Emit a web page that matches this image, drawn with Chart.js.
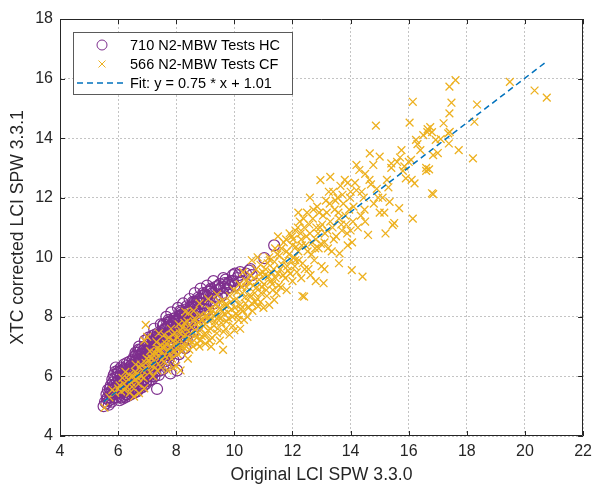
<!DOCTYPE html>
<html>
<head>
<meta charset="utf-8">
<script src="https://cdn.jsdelivr.net/npm/chart.js@4.4.1/dist/chart.umd.min.js"></script>
<style>
  html, body { margin: 0; padding: 0; background: #fff; }
  canvas { display: block; }
</style>
</head>
<body>
<canvas id="lciChart" width="598" height="486"></canvas>
<script>
// values: [original LCI, corrected LCI]
const hcPoints = [
  [5.5,5.0],[5.55,5.15],[5.6,5.1],[5.65,5.3],[5.7,5.2],[5.7,5.45],[5.75,5.35],[5.8,5.55],[5.8,5.25],[5.85,5.7],
  [5.85,5.4],[5.9,5.95],[5.9,5.5],[5.92,6.3],[5.95,5.3],[5.95,5.8],[6.0,5.6],[6.0,5.45],[6.0,6.0],[5.88,5.6],
  [5.62,5.25],[5.68,5.05],[5.72,5.6],[5.78,5.15],[5.82,5.8],[5.86,5.3],[5.92,5.65],[5.97,6.1],[5.98,5.5],[5.76,5.45],
  [5.6,5.4],[5.65,5.55],[5.75,5.7],[5.8,5.9],[5.85,6.05],[5.9,6.15],[6.0,6.2],[6.1,6.3],[6.2,6.4],[6.3,6.45],
  [6.4,6.5],[6.5,6.55],[6.55,6.65],[6.05,5.2],[6.15,5.25],[6.25,5.3],[6.35,5.35],[6.45,5.4],[6.55,5.45],[6.65,5.5],
  [6.75,5.6],[6.85,5.65],[6.95,5.75],[7.05,5.85],[7.15,5.9],[7.25,6.0],[7.4,6.05],[7.55,6.25],[7.7,6.35],[7.9,6.55],
  [8.1,6.75],[8.3,6.95],
  [6.05,5.35],[6.05,5.75],[6.1,5.55],[6.1,6.1],[6.12,5.9],[6.15,5.45],[6.15,5.7],[6.2,6.25],[6.2,5.6],[6.22,5.85],
  [6.25,5.4],[6.25,6.0],[6.3,5.7],[6.3,6.35],[6.32,5.55],[6.35,5.95],[6.35,5.8],[6.4,6.15],[6.4,5.5],[6.42,5.65],
  [6.45,6.05],[6.45,5.85],[6.48,6.4],[6.5,5.6],[6.5,5.95],[6.08,6.0],[6.18,6.05],[6.28,5.5],[6.38,6.3],[6.46,5.75],
  [6.12,5.3],[6.33,6.1],[6.24,5.75],[6.44,6.25],[6.05,5.6],
  [6.02,5.85],[6.07,5.5],[6.13,6.2],[6.17,5.8],[6.21,5.35],[6.23,6.1],[6.27,5.85],[6.31,5.4],[6.34,6.2],[6.37,5.6],
  [6.41,5.95],[6.43,6.35],[6.47,5.55],[6.49,6.1],[6.03,6.15],[6.19,5.5],[6.29,6.25],[6.39,5.75],
  [6.55,6.2],[6.55,5.75],[6.6,6.5],[6.6,5.9],[6.62,6.05],[6.65,5.6],[6.68,6.3],[6.7,6.7],[6.7,5.85],[6.72,6.15],
  [6.75,6.45],[6.78,6.0],[6.8,5.7],[6.8,6.6],[6.82,6.25],[6.85,6.85],[6.88,6.1],[6.9,6.4],[6.9,5.9],[6.92,6.55],
  [6.95,6.2],[6.98,6.75],[7.0,6.0],[7.0,6.45],[6.58,6.4],[6.66,6.8],[6.74,5.95],[6.86,6.35],[6.94,6.95],[6.64,6.15],
  [6.76,6.55],[6.84,6.05],
  [6.52,6.3],[6.54,5.6],[6.57,6.0],[6.61,6.7],[6.63,5.7],[6.67,6.45],[6.69,6.0],[6.71,6.9],[6.73,6.35],[6.77,5.75],
  [6.79,6.75],[6.81,6.4],[6.83,5.85],[6.87,6.65],[6.89,6.25],[6.91,7.0],[6.93,6.05],[6.96,6.6],[6.99,6.3],[6.97,5.85],
  [6.6,6.8],[6.72,7.0],[6.78,6.9],[6.92,7.2],[7.0,7.05],[6.65,6.55],[6.75,6.65],[6.85,6.75],[6.95,6.85],
  [7.05,6.3],[7.05,6.7],[7.08,6.1],[7.1,6.9],[7.12,6.5],[7.15,6.25],[7.18,7.05],[7.2,6.6],[7.22,6.4],[7.25,6.8],
  [7.28,6.15],[7.3,7.2],[7.3,6.55],[7.32,6.95],[7.35,6.35],[7.38,6.75],[7.4,7.0],[7.42,6.5],[7.45,7.3],[7.45,6.85],
  [7.48,6.65],[7.5,7.1],[7.34,5.58],[7.12,7.25],[7.26,7.4],[7.16,6.0],[7.44,6.2],[7.02,6.85],
  [7.03,6.55],[7.07,6.95],[7.09,6.4],[7.11,6.05],[7.14,6.75],[7.17,7.1],[7.19,6.3],[7.21,6.85],[7.24,6.55],[7.27,7.0],
  [7.29,6.35],[7.31,6.75],[7.33,7.35],[7.36,6.6],[7.39,7.15],[7.41,6.4],[7.43,6.95],[7.46,7.45],[7.49,6.8],[7.23,6.2],
  [7.04,7.3],[7.16,7.35],[7.24,7.6],[7.36,7.45],[7.47,7.75],[7.1,7.0],[7.2,7.15],[7.3,7.3],[7.4,7.35],[7.5,7.45],
  [7.52,6.75],[7.55,7.4],[7.58,6.95],[7.6,6.5],[7.62,7.2],[7.65,7.6],[7.68,6.85],[7.7,7.35],[7.72,7.05],[7.75,7.75],
  [7.78,6.7],[7.8,7.5],[7.82,7.2],[7.85,6.95],[7.88,7.65],[7.9,7.35],[7.92,7.85],[7.95,7.1],[7.98,7.55],[8.0,7.3],
  [7.8,6.1],[7.64,6.4],[7.74,7.9],[7.56,7.75],
  [7.53,7.25],[7.57,6.6],[7.59,7.55],[7.61,6.9],[7.63,7.35],[7.66,6.75],[7.69,7.8],[7.71,7.15],[7.73,6.55],[7.76,7.45],
  [7.79,7.0],[7.81,7.85],[7.84,7.3],[7.86,6.8],[7.89,7.55],[7.91,7.1],[7.94,7.95],[7.97,7.4],[7.99,6.9],
  [7.54,7.7],[7.66,8.0],[7.77,7.85],[7.83,8.15],[7.96,7.95],[7.6,7.6],[7.7,7.65],[7.8,7.7],[7.9,7.75],[8.0,7.9],
  [8.03,6.2],[8.05,7.7],[8.08,7.45],[8.1,7.95],[8.12,7.2],[8.15,7.6],[8.18,7.85],[8.2,7.35],[8.22,8.1],[8.25,7.7],
  [8.28,7.5],[8.3,8.0],[8.33,7.8],[8.36,7.25],[8.4,8.15],[8.42,7.6],[8.45,7.9],[8.48,8.3],[8.03,7.85],[8.14,8.2],
  [8.04,7.55],[8.09,7.25],[8.13,8.05],[8.16,7.45],[8.19,7.7],[8.23,7.15],[8.27,7.95],[8.31,7.55],[8.35,8.25],[8.38,7.7],
  [8.44,7.45],[8.47,8.05],[8.51,8.25],[8.56,7.85],[8.62,8.5],[8.67,8.1],[8.74,8.55],[8.8,8.2],[8.87,8.45],[8.93,8.8],
  [8.98,8.25],
  [8.06,8.3],[8.17,8.15],[8.24,8.45],[8.36,8.35],[8.46,8.6],[8.1,8.0],[8.2,8.05],[8.3,8.15],[8.4,8.2],[8.5,8.35],
  [8.52,7.75],[8.55,8.05],[8.58,7.5],[8.6,8.35],[8.65,7.95],[8.7,8.2],[8.72,7.7],[8.78,8.45],[8.82,8.0],[8.85,8.3],
  [8.9,8.6],[8.95,8.1],[9.0,8.4],
  [8.57,8.5],[8.64,8.8],[8.76,8.65],[8.84,8.95],[8.97,8.75],[8.6,8.45],[8.7,8.5],[8.8,8.6],[8.9,8.7],[9.0,8.75],
  [9.05,8.7],[9.1,8.25],[9.15,8.5],[9.25,8.8],[9.3,8.45],[9.4,8.65],[9.5,8.95],[9.6,8.8],[9.67,9.13],[9.75,8.95],
  [9.08,8.55],[9.2,8.9],[9.35,8.7],[9.45,9.05],[9.55,8.7],[9.7,9.25],[9.85,9.0],[9.95,9.4],
  [9.06,9.05],[9.17,8.85],[9.28,9.2],[9.46,8.9],[9.62,9.3],[9.78,9.1],[10.02,9.45],[10.2,9.5],
  [9.1,8.85],[9.2,8.95],[9.35,9.0],[9.5,9.1],[9.65,9.0],[9.8,9.15],[9.95,9.2],[10.15,9.4],
  [9.9,9.2],[10.0,9.05],[10.1,9.3],[10.25,9.2],[10.4,9.45],[10.5,9.55],[10.6,9.4],[11.03,9.97],[11.37,10.4],[10.55,9.6]
];

const cfPoints = [
  [5.53,4.95],[5.7,5.3],[5.9,5.45],[6.0,5.6],[6.1,5.5],[6.2,5.75],[6.3,5.65],[6.35,5.9],[6.45,5.8],[6.5,6.0],
  [6.55,5.32],[6.25,6.15],[6.4,5.45],[6.15,5.95],[5.8,5.55],
  [6.05,5.7],[6.22,5.55],[6.38,6.05],[6.48,5.65],[6.58,6.15],[6.68,5.95],[6.78,6.4],[6.88,5.95],[6.98,6.6],
  [6.6,5.9],[6.65,6.1],[6.7,5.75],[6.72,5.44],[6.75,6.3],[6.8,6.0],[6.85,6.2],[6.9,5.6],[6.95,6.45],[6.95,7.73],
  [7.0,6.25],[7.0,7.33],[7.05,6.55],[7.1,6.15],[7.15,6.6],[7.2,6.35],[7.25,6.8],[7.3,6.5],[7.35,6.2],[7.4,7.45],
  [7.4,6.7],[7.45,6.9],[7.5,6.55],[6.9,7.2],[7.2,6.0],[7.1,6.85],[6.6,6.4],[7.35,6.95],[7.48,6.3],
  [7.08,6.4],[7.18,6.75],[7.28,6.3],[7.38,6.85],[7.48,7.05],[7.58,6.5],[7.68,7.25],[7.78,6.75],[7.88,7.4],[7.98,7.1],
  [7.62,7.0],[7.92,6.8],[7.32,7.15],
  [7.55,6.95],[7.6,6.7],[7.65,7.1],[7.7,6.2],[7.7,6.85],[7.75,7.3],[7.8,7.0],[7.85,6.6],[7.9,7.2],[7.9,6.3],
  [7.95,7.45],[8.0,6.35],[8.0,6.95],[8.05,7.3],[8.1,7.1],[8.15,6.2],[8.15,7.55],[8.2,6.85],[8.25,7.35],[8.3,7.05],
  [8.31,8.17],[8.35,7.6],[8.4,7.25],[8.42,8.13],[8.45,6.9],[8.5,7.45],[7.58,7.4],[7.82,7.6],[8.08,7.75],[8.28,7.8],
  [8.6,8.2],[8.6,7.85],
  [8.05,6.75],[8.12,7.45],[8.18,7.0],[8.22,7.65],[8.28,6.95],[8.33,7.4],[8.38,7.85],[8.46,7.2],[8.52,7.65],[8.58,7.0],
  [8.63,7.95],[8.68,7.4],[8.73,7.1],[8.78,7.65],[8.83,8.05],[8.88,7.35],[8.93,7.7],[8.98,8.0],[8.4,6.6],
  [8.55,7.15],[8.65,7.55],[8.7,7.3],[8.75,7.8],[8.8,7.0],[8.82,7.22],[8.85,7.6],[8.9,7.9],[8.95,7.4],[9.0,7.75],
  [9.05,8.05],[9.1,7.55],[9.15,7.2],[9.2,7.0],[9.2,7.9],[9.25,8.2],[9.3,7.7],[9.35,8.4],[9.4,7.45],[9.45,8.0],
  [9.5,7.2],[9.5,8.3],[9.55,7.8],[9.61,6.89],[9.6,8.55],[9.65,8.1],[9.7,7.6],[9.75,8.4],[9.8,7.95],[9.85,8.7],
  [9.9,8.25],[9.95,7.7],[10.0,7.55],[10.0,8.55],[8.8,8.45],[9.1,8.6],[9.4,8.75],[9.0,7.1],
  [9.03,7.4],[9.08,7.95],[9.13,8.25],[9.18,7.6],[9.23,7.3],[9.28,8.05],[9.33,7.85],[9.38,8.1],[9.43,7.6],[9.48,8.5],
  [9.53,7.95],[9.58,8.2],[9.63,7.5],[9.68,8.4],[9.73,7.85],[9.78,8.15],[9.83,7.4],[9.88,8.5],[9.93,8.0],[9.98,8.9],
  [10.05,8.1],[10.1,8.85],[10.15,7.9],[10.2,8.4],[10.25,9.0],[10.3,8.2],[10.35,8.65],[10.4,9.2],[10.45,8.0],[10.5,8.7],
  [10.55,9.4],[10.6,8.45],[10.65,9.05],[10.7,8.8],[10.75,9.6],[10.8,8.6],[10.85,9.25],[10.9,8.5],[10.9,9.75],[10.95,9.0],
  [11.0,8.3],[10.3,9.5],[10.6,9.9],[10.8,10.0],[10.2,7.6],
  [10.02,8.3],[10.08,8.6],[10.12,8.05],[10.18,9.1],[10.22,8.25],[10.28,8.8],[10.33,7.9],[10.38,8.45],[10.42,9.0],[10.48,8.3],
  [10.52,9.15],[10.58,8.7],[10.62,8.2],[10.68,9.3],[10.72,8.5],[10.78,9.0],[10.82,8.35],[10.88,9.45],[10.92,8.8],[10.98,9.5],
  [11.05,9.4],[11.1,8.9],[11.15,9.8],[11.2,10.0],[11.25,9.2],[11.3,9.1],[11.37,8.57],[11.35,9.6],[11.4,10.3],[11.45,8.8],
  [11.5,9.45],[11.55,10.05],[11.6,9.0],[11.65,9.75],[11.7,10.5],[11.75,9.3],[11.8,10.2],[11.85,9.55],[11.9,10.8],[11.95,9.9],
  [12.0,10.4],[12.0,9.2],[11.5,10.7],[11.2,8.4],[11.8,8.9],
  [11.02,9.1],[11.08,9.6],[11.12,8.7],[11.18,9.35],[11.22,9.9],[11.28,9.5],[11.32,8.9],[11.38,9.85],[11.42,9.3],[11.48,10.1],
  [11.52,9.05],[11.58,9.6],[11.62,10.3],[11.68,9.4],[11.72,9.9],[11.78,10.6],[11.82,9.7],[11.88,10.1],[11.92,9.45],[11.98,10.7],
  [12.05,10.0],[12.1,10.9],[12.15,9.5],[12.2,10.2],[12.25,11.2],[12.3,10.6],[12.3,9.3],[12.34,8.7],[12.35,9.8],[12.4,11.0],
  [12.4,8.68],[12.45,10.4],[12.5,11.5],[12.55,9.6],[12.6,10.8],[12.65,10.1],[12.7,11.3],[12.75,9.9],[12.8,10.6],[12.85,11.7],
  [12.9,10.3],[12.96,12.59],[12.95,11.0],[13.0,9.7],[12.2,11.5],[12.6,12.0],[12.8,9.2],[12.1,9.9],
  [12.02,10.6],[12.08,9.7],[12.12,10.35],[12.18,11.0],[12.22,9.9],[12.28,10.8],[12.32,10.4],[12.38,11.3],[12.42,9.6],[12.48,10.7],
  [12.52,10.2],[12.58,11.1],[12.62,9.4],[12.68,10.5],[12.72,11.6],[12.78,10.3],[12.82,11.0],[12.88,10.8],[12.92,11.5],[12.98,10.45],
  [13.05,11.4],[13.07,9.13],[13.1,10.5],[13.1,9.6],[13.15,11.9],[13.2,10.9],[13.25,12.2],[13.3,11.2],[13.35,10.2],[13.4,12.2],
  [13.45,11.6],[13.5,10.7],[13.55,12.0],[13.6,11.3],[13.62,10.13],[13.65,12.4],[13.7,10.9],[13.75,11.8],[13.8,12.6],[13.85,11.1],
  [13.9,12.5],[13.95,11.6],[14.0,10.9],[14.0,12.2],[14.04,9.57],[14.05,10.5],[13.3,12.7],[13.6,9.8],[13.9,10.4],
  [13.02,11.1],[13.12,10.8],[13.18,11.5],[13.22,10.3],[13.28,11.8],[13.38,11.0],[13.42,10.6],[13.48,11.9],[13.58,11.5],[13.68,11.1],
  [13.72,12.1],[13.82,11.4],[13.88,10.8],[13.98,12.0],[14.08,11.2],[14.15,12.5],[14.25,11.0],[14.38,12.2],[14.48,11.6],
  [14.1,11.7],[14.2,12.25],[14.3,12.93],[14.35,11.4],[14.41,9.35],[14.45,12.0],[14.5,11.2],[14.6,10.75],[14.65,12.6],[14.7,12.45],
  [14.78,13.1],[14.66,13.49],[14.8,11.8],[14.9,12.3],[15.0,13.38],[15.0,11.5],[14.87,14.42],[14.2,13.1],[14.5,12.8],[14.95,12.0],
  [15.1,12.0],[15.16,11.5],[15.2,10.8],[15.25,12.6],[15.3,12.35],[15.34,11.86],[15.4,13.0],[15.45,11.08],[15.5,11.15],[15.6,13.2],
  [15.67,11.65],[15.7,13.35],[15.75,13.6],[15.8,12.9],[15.9,12.65],[16.0,13.2],[15.4,13.15],[15.85,13.05],
  [16.03,14.52],[16.08,13.27],[16.1,12.6],[16.14,11.3],[16.14,15.22],[16.2,12.48],[16.25,13.94],[16.3,13.8],[16.4,13.6],[16.5,14.1],
  [16.6,12.9],[16.64,14.2],[16.65,14.3],[16.74,14.37],[16.8,14.2],[16.8,12.15],[16.84,13.43],[16.84,12.12],[16.93,13.94],[17.0,13.5],
  [16.6,13.0],[16.7,12.95],
  [17.1,13.97],[17.2,14.5],[17.36,14.16],[17.38,13.82],[17.4,14.83],[17.4,15.73],[17.41,14.21],[17.47,15.19],[17.61,15.95],[17.72,13.6],
  [18.21,13.32],[18.26,14.55],[18.35,15.13],[19.48,15.89],[20.33,15.6],[20.75,15.36]
];

// fit line end points
const fitX = [5.5, 20.7];
const fitY = [5.15, 16.54];

const xTicks = [4, 6, 8, 10, 12, 14, 16, 18, 20, 22];
const yTicks = [4, 6, 8, 10, 12, 14, 16, 18];
const legendLabels = ['710 N2-MBW Tests HC', '566 N2-MBW Tests CF', 'Fit: y = 0.75 * x + 1.01'];
const xTitle = 'Original LCI SPW 3.3.0';
const yTitle = 'XTC corrected LCI SPW 3.3.1';

const PURPLE = '#7E2F8E';
const YELLOW = '#EDB120';
const BLUE = '#0072BD';
const INK = '#262626';
const FONT = "'Liberation Sans', Arial, Helvetica, sans-serif";

// box round the axes with inward tick marks, like the matlab figure
const axesFrame = {
  id: 'axesFrame',
  afterDraw(chart) {
    const { ctx, chartArea: a, scales } = chart;
    ctx.save();
    ctx.strokeStyle = INK;
    ctx.lineWidth = 1;
    ctx.beginPath();
    ctx.rect(Math.round(a.left) + 0.5, Math.round(a.top) + 0.5,
      Math.round(a.right - a.left) - 1, Math.round(a.bottom - a.top) - 1);
    xTicks.forEach((v) => {
      const px = Math.round(scales.x.getPixelForValue(v)) + 0.5;
      ctx.moveTo(px, a.bottom); ctx.lineTo(px, a.bottom - 5);
      ctx.moveTo(px, a.top); ctx.lineTo(px, a.top + 5);
    });
    yTicks.forEach((v) => {
      const py = Math.round(scales.y.getPixelForValue(v)) + 0.5;
      ctx.moveTo(a.left, py); ctx.lineTo(a.left + 5, py);
      ctx.moveTo(a.right, py); ctx.lineTo(a.right - 5, py);
    });
    ctx.stroke();
    ctx.restore();
  },
};

// legend box inside the plot, top left
const insideLegend = {
  id: 'insideLegend',
  afterDraw(chart) {
    const ctx = chart.ctx;
    const bx = 73, by = 32, bw = 219, bh = 62;
    ctx.save();
    ctx.fillStyle = '#fff';
    ctx.fillRect(bx, by, bw, bh);
    ctx.strokeStyle = '#5a5a5a';
    ctx.lineWidth = 1;
    ctx.strokeRect(bx + 0.5, by + 0.5, bw, bh);

    const rows = [45, 64, 83];
    const mx = 102;
    // circle
    ctx.strokeStyle = PURPLE;
    ctx.beginPath();
    ctx.arc(mx, rows[0], 5, 0, Math.PI * 2);
    ctx.stroke();
    // cross
    ctx.strokeStyle = YELLOW;
    ctx.beginPath();
    ctx.moveTo(mx - 3.5, rows[1] - 3.5); ctx.lineTo(mx + 3.5, rows[1] + 3.5);
    ctx.moveTo(mx + 3.5, rows[1] - 3.5); ctx.lineTo(mx - 3.5, rows[1] + 3.5);
    ctx.stroke();
    // dashed line
    ctx.strokeStyle = BLUE;
    ctx.lineWidth = 1.5;
    ctx.setLineDash([6, 4]);
    ctx.beginPath();
    ctx.moveTo(77, rows[2]); ctx.lineTo(124, rows[2]);
    ctx.stroke();
    ctx.setLineDash([]);

    ctx.fillStyle = '#000';
    ctx.font = '14.5px ' + FONT;
    ctx.textBaseline = 'middle';
    legendLabels.forEach((t, i) => ctx.fillText(t, 130, rows[i] + 1));
    ctx.restore();
  },
};

const ctx = document.getElementById('lciChart').getContext('2d');
new Chart(ctx, {
  type: 'scatter',
  data: {
    datasets: [
      {
        label: legendLabels[0],
        data: hcPoints.map(([x, y]) => ({ x, y })),
        pointStyle: 'circle',
        pointRadius: 5.5,
        borderWidth: 1.2,
        borderColor: PURPLE,
        backgroundColor: 'rgba(0,0,0,0)',
        order: 3,
      },
      {
        label: legendLabels[1],
        data: cfPoints.map(([x, y]) => ({ x, y })),
        pointStyle: 'crossRot',
        pointRadius: 5.5,
        borderWidth: 1.3,
        borderColor: YELLOW,
        backgroundColor: YELLOW,
        order: 2,
      },
      {
        label: legendLabels[2],
        type: 'line',
        data: fitX.map((x, i) => ({ x, y: fitY[i] })),
        borderColor: BLUE,
        borderWidth: 1.5,
        borderDash: [6, 4],
        pointRadius: 0,
        fill: false,
        order: 1,
      },
    ],
  },
  options: {
    responsive: false,
    animation: false,
    layout: { padding: { top: 19, right: 9, left: 0, bottom: 0 } },
    plugins: {
      legend: { display: false },
      tooltip: { enabled: false },
    },
    scales: {
      x: {
        type: 'linear',
        min: 4,
        max: 22,
        afterFit: (scale) => { scale.height = 50; },
        afterBuildTicks: (scale) => { scale.ticks = xTicks.map((v) => ({ value: v })); },
        ticks: { color: INK, padding: 6, font: { family: FONT, size: 16 }, maxRotation: 0 },
        grid: { color: '#c4c4c4', lineWidth: 1, drawTicks: false },
        border: { display: false, dash: [2, 2] },
        title: { display: true, text: xTitle, color: INK, font: { family: FONT, size: 17.6 }, padding: { top: 0, bottom: 0 } },
      },
      y: {
        type: 'linear',
        min: 4,
        max: 18,
        afterFit: (scale) => { scale.width = 60; },
        afterBuildTicks: (scale) => { scale.ticks = yTicks.map((v) => ({ value: v })); },
        ticks: { color: INK, padding: 7, font: { family: FONT, size: 16 } },
        grid: { color: '#c4c4c4', lineWidth: 1, drawTicks: false },
        border: { display: false, dash: [2, 2] },
        title: { display: true, text: yTitle, color: INK, font: { family: FONT, size: 17.6 }, padding: { top: 8, bottom: 0 } },
      },
    },
  },
  plugins: [axesFrame, insideLegend],
});
</script>
</body>
</html>
